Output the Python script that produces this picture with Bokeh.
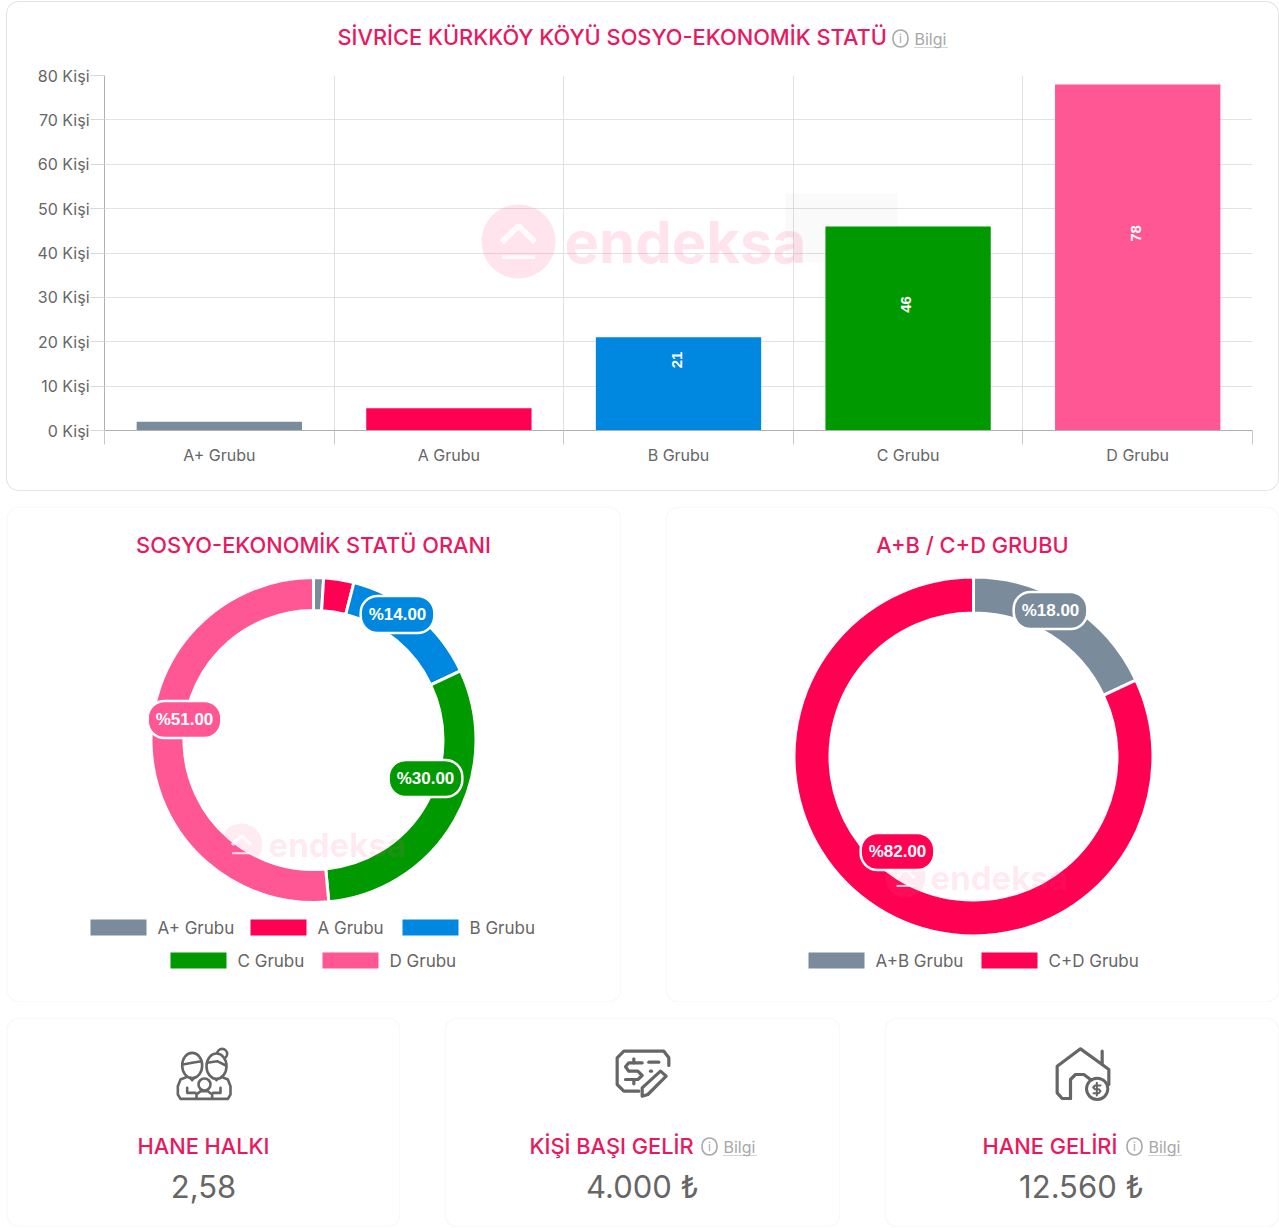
import math
from bokeh.plotting import figure
from bokeh.layouts import column, row
from bokeh.embed import file_html
from bokeh.resources import INLINE
from bokeh.core.properties import value
from bokeh.models import Range1d, FixedTicker, Label, BoxAnnotation, Arrow, ColumnDataSource

# ---------- data ----------
categories = ["A+ Grubu", "A Grubu", "B Grubu", "C Grubu", "D Grubu"]
people = [2, 5, 21, 46, 78]
colors = ["#7A8B9C", "#FF0052", "#0087E0", "#009900", "#FF5794"]
y_ticks = [0, 10, 20, 30, 40, 50, 60, 70, 80]
y_unit = "Kişi"
chart_title = "SİVRİCE KÜRKKÖY KÖYÜ SOSYO-EKONOMİK STATÜ"

share_title = "SOSYO-EKONOMİK STATÜ ORANI"
share_values = [1, 3, 14, 30.5, 51.5]
share_labels = {"B Grubu": "%14.00", "C Grubu": "%30.00", "D Grubu": "%51.00"}

group_title = "A+B / C+D GRUBU"
group_names = ["A+B Grubu", "C+D Grubu"]
group_values = [18, 82]
group_labels = ["%18.00", "%82.00"]
group_colors = ["#7A8B9C", "#FF0052"]

stat_titles = ["HANE HALKI", "KİŞİ BAŞI GELİR", "HANE GELİRİ"]
stat_values = ["2,58", "4.000 ₺", "12.560 ₺"]

FONT = "Inter"
TITLE_FONT = "Inter Medium"
TITLE_SIZE = "21.8px"
PINK = "#E8195F"
GREY = "#666666"
LIGHT = "#A8A8A8"
EDGE = "#E4E4E4"


def card(x0, y0, w, h):
    """A figure whose frame coordinates are reference pixels (y negated)."""
    p = figure(width=w, height=h, x_range=Range1d(x0, x0 + w), y_range=Range1d(-(y0 + 1 + h), -(y0 + 1)),
               toolbar_location=None, output_backend="svg", min_border=0,
               outline_line_color=None, border_fill_color=None, background_fill_color=None)
    p.axis.visible = False
    p.grid.visible = False
    p.add_layout(BoxAnnotation(left=0.5, right=w - 0.5, top=0.5, bottom=h - 0.5,
                               left_units="canvas", right_units="canvas",
                               top_units="canvas", bottom_units="canvas",
                               fill_color="white", fill_alpha=1, line_color=EDGE, line_width=1.2,
                               border_radius=13, level="underlay", editable=False))
    return p


def bilgi(p, x, y):
    p.add_layout(Label(x=x + 8, y=-y, text="i", text_color=LIGHT, text_font_size="12px",
                       text_font=FONT, text_align="center", text_baseline="middle",
                       border_line_color=LIGHT, border_line_width=1.6, border_radius=8,
                       padding=(6, 1)))
    p.add_layout(Label(x=x + 22, y=-y, text="Bilgi", text_color=LIGHT, text_font_size="16px",
                       text_font=FONT, text_align="left", text_baseline="middle"))
    p.add_layout(Arrow(end=None, start=None, x_start=x + 22, y_start=-(y + 9), x_end=x + 55, y_end=-(y + 9),
                       line_color=LIGHT, line_width=1, line_dash="1 1"))


def watermark(p, cx, cy, r, tx, size, alpha, **kw):
    p.scatter([cx], [-cy], size=2 * r, marker="circle", fill_color="#FF5794", fill_alpha=alpha,
              line_color=None, **kw)
    p.line([cx - r * .45, cx, cx + r * .45], [-cy - r * .02, -cy + r * .42, -cy - r * .02],
           line_color="white", line_width=r * .16, line_alpha=.8, **kw)
    p.line([cx - r * .45, cx + r * .45], [-cy - r * .42, -cy - r * .42],
           line_color="white", line_width=r * .1, line_alpha=.8, **kw)
    p.text([tx], [-cy], text=["endeksa"], text_font=value(FONT), text_font_style="bold",
           text_font_size=f"{size}px", text_color="#FF5794", text_alpha=alpha,
           text_baseline="middle", **kw)


def legend(p, names, cols, x_swatch, y):
    for name, col, xs in zip(names, cols, x_swatch):
        p.quad(left=[xs], right=[xs + 56], top=[-(y - 8)], bottom=[-(y + 8)], fill_color=col, line_color=None)
        p.text([xs + 67], [-y], text=[name], text_font=value(FONT), text_font_size="17px",
               text_color=GREY, text_baseline="middle")


def pill(p, x, y, text, col):
    p.add_layout(Label(x=x, y=-y, text=text, text_color="white", text_font="Liberation Sans",
                       text_font_style="bold", text_font_size="17px", text_align="center",
                       text_baseline="middle", background_fill_color=col, border_line_color="white",
                       border_line_width=2.5, border_radius=17, padding=(8, 9)))


def donut(p, cx, cy, r_out, r_in, values, cols):
    total = sum(values)
    cum = 0
    for v, c in zip(values, cols):
        a0 = math.pi / 2 - cum / total * 2 * math.pi
        cum += v
        a1 = math.pi / 2 - cum / total * 2 * math.pi
        p.annular_wedge([cx], [-cy], inner_radius=r_in, outer_radius=r_out, start_angle=a0, end_angle=a1,
                        direction="clock", fill_color=c, line_color="white", line_width=3)


# ---------- top card: header + bar chart ----------
head = figure(width=1273, height=64, x_range=Range1d(104, 1252), y_range=Range1d(-65, -1),
              toolbar_location=None, output_backend="svg", min_border=0,
              outline_line_color=None, border_fill_color=None, background_fill_color=None)
head.axis.visible = False
head.grid.visible = False
head.text([337], [-36], text=[chart_title], text_font=value(TITLE_FONT), text_font_size=TITLE_SIZE, text_color=PINK,
          text_align="left", text_baseline="middle")
bilgi(head, 892, 38)

top = figure(width=1273, height=426, x_range=Range1d(0, 5), y_range=Range1d(0, 80),
             toolbar_location=None, output_backend="svg",
             min_border_left=98, min_border_right=27, min_border_top=10, min_border_bottom=61,
             outline_line_color=None, border_fill_color=None, background_fill_color=None)
top.extra_x_ranges = {"px": Range1d(104, 1252)}
top.extra_y_ranges = {"py": Range1d(-430, -75)}
pxk = dict(x_range_name="px", y_range_name="py")

idx = [i + 0.5 for i in range(len(categories))]
src = ColumnDataSource(dict(x=idx, top=people, color=colors))

top.xaxis.ticker = FixedTicker(ticks=idx, minor_ticks=list(range(len(categories) + 1)))
top.xaxis.major_label_overrides = {i: c for i, c in zip(idx, categories)}
top.xaxis.major_tick_line_color = None
top.xaxis.minor_tick_line_color = "#C8C8C8"
top.xaxis.minor_tick_out = 14
top.xaxis.minor_tick_in = 0
top.xaxis.major_label_standoff = 0
top.xaxis.axis_line_color = "#B0B0B0"
top.xaxis.major_label_text_font = FONT
top.xaxis.major_label_text_font_size = "16px"
top.xaxis.major_label_text_color = GREY

top.yaxis.ticker = FixedTicker(ticks=y_ticks)
top.yaxis.major_label_overrides = {t: f"{t} {y_unit}" for t in y_ticks}
top.yaxis.minor_tick_line_color = None
top.yaxis.major_tick_out = 14
top.yaxis.major_tick_in = 0
top.yaxis.major_tick_line_color = "#D8D8D8"
top.yaxis.major_label_standoff = 1
top.yaxis.axis_line_color = "#B0B0B0"
top.yaxis.major_label_text_font = FONT
top.yaxis.major_label_text_font_size = "16px"
top.yaxis.major_label_text_color = GREY

top.xgrid.ticker = FixedTicker(ticks=list(range(len(categories) + 1)))
top.ygrid.ticker = FixedTicker(ticks=y_ticks)
top.grid.grid_line_color = "#E2E2E2"

watermark(top, 518, 241, 37, 564, 58, 0.17, **pxk)
top.quad(left=[785], right=[897], top=[-193], bottom=[-262], fill_color="#000000", fill_alpha=0.02,
         line_color=None, **pxk)
top.vbar(x="x", top="top", width=0.72, bottom=0, fill_color="color", line_color=None, source=src)
big = [(x, v) for x, v in zip(idx, people) if v > 10]
top.text([b[0] for b in big], [b[1] / 2 for b in big], text=[str(b[1]) for b in big], angle=math.pi / 2,
         text_color="white", text_font=value("Liberation Sans"), text_font_style="bold",
         text_font_size="15px", text_align="center", text_baseline="middle",
         x_offset=-2, y_offset=-24)

# ---------- donuts ----------
left = card(6, 506, 615, 496)
left.text([313], [-545], text=[share_title], text_font=value(TITLE_FONT), text_font_size=TITLE_SIZE, text_color=PINK,
          text_align="center", text_baseline="middle")
donut(left, 313, 740.5, 162.5, 129.5, share_values, colors)
watermark(left, 241, 845, 21, 268, 33, 0.12)
pill(left, 397, 615, share_labels["B Grubu"], colors[2])
pill(left, 425, 779, share_labels["C Grubu"], colors[3])
pill(left, 184, 720, share_labels["D Grubu"], colors[4])
legend(left, categories[:3], colors[:3], [90, 250, 402], 928)
legend(left, categories[3:], colors[3:], [170, 322], 961)

right = card(665, 506, 614, 496)
right.text([972], [-545], text=[group_title], text_font=value(TITLE_FONT), text_font_size=TITLE_SIZE, text_color=PINK,
           text_align="center", text_baseline="middle")
donut(right, 973, 757, 179.5, 143.5, group_values, group_colors)
watermark(right, 905, 878, 20, 930, 33, 0.12)
pill(right, 1050, 611, group_labels[0], group_colors[0])
pill(right, 897, 852, group_labels[1], group_colors[1])
legend(right, group_names, group_colors, [808, 981], 961)

# ---------- stat cards ----------
c1 = card(6, 1017, 394, 210)
c2 = card(444, 1017, 396, 210)
c3 = card(884, 1017, 395, 210)


def stat(p, title, val, tx, talign, vx):
    p.text([tx], [-1146], text=[title], text_font=value(TITLE_FONT), text_font_size=TITLE_SIZE, text_color=PINK,
           text_align=talign, text_baseline="middle")
    p.text([vx], [-1187], text=[val], text_font=value(FONT), text_font_size="31px", text_color=GREY,
           text_align="center", text_baseline="middle")


stat(c1, stat_titles[0], stat_values[0], 203, "center", 203)
stat(c2, stat_titles[1], stat_values[1], 529, "left", 642)
stat(c3, stat_titles[2], stat_values[2], 982, "left", 1081)
bilgi(c2, 701, 1147)
bilgi(c3, 1126, 1147)


def path(p, ox, oy, pts, lw=2.6):
    p.line([ox + a / 3 for a, _ in pts], [-(oy + b / 3) for _, b in pts], line_color="#666666",
           line_width=lw, line_join="round", line_cap="round")


def ring(p, ox, oy, cx, cy, rx, ry=None, lw=2.6):
    ry = rx if ry is None else ry
    p.ellipse([ox + cx / 3], [-(oy + cy / 3)], width=2 * rx / 3, height=2 * ry / 3, fill_color="white",
              line_color="#666666", line_width=lw)


# family icon
ox, oy = 120, 1030
path(c1, ox, oy, [(205, 140), (180, 150), (172, 170), (172, 195), (180, 208), (322, 208), (330, 195),
                  (330, 170), (322, 150), (298, 140)])
path(c1, ox, oy, [(200, 175), (200, 190), (225, 190)])
path(c1, ox, oy, [(300, 175), (300, 190), (278, 190)])
path(c1, ox, oy, [(228, 205), (228, 195), (240, 185), (262, 185), (275, 195), (275, 205)])
path(c1, ox, oy, [(205, 140), (215, 152), (225, 140)])
path(c1, ox, oy, [(278, 140), (288, 152), (298, 140)])
ring(c1, ox, oy, 215, 108, 30, 38)
ring(c1, ox, oy, 305, 73, 15)
ring(c1, ox, oy, 288, 110, 30, 38)
ring(c1, ox, oy, 252, 165, 18)
path(c1, ox, oy, [(187, 105), (215, 100), (243, 95)])
path(c1, ox, oy, [(260, 100), (290, 95), (316, 108)])

# banknote icon
ox, oy = 500, 1030
path(c2, ox, oy, [(505, 108), (505, 85), (490, 65), (370, 65), (350, 85), (350, 165), (370, 185), (415, 185)], 3.2)
path(c2, ox, oy, [(425, 100), (385, 100), (375, 112), (385, 125), (412, 125), (425, 138), (412, 150), (375, 150)], 3.2)
path(c2, ox, oy, [(400, 88), (400, 100)], 3.2)
path(c2, ox, oy, [(400, 150), (400, 163)], 3.2)
path(c2, ox, oy, [(445, 98), (475, 98)], 3.2)
path(c2, ox, oy, [(450, 125), (453, 125)], 3.2)
path(c2, ox, oy, [(425, 175), (480, 125), (497, 140), (442, 195), (425, 200), (425, 175)], 3.2)

# house icon
ox, oy = 960, 1030
path(c3, ox, oy, [(330, 207), (305, 207), (290, 190), (290, 110), (360, 58), (425, 105), (425, 65)], 3.2)
path(c3, ox, oy, [(425, 105), (445, 120), (445, 165)], 3.2)
path(c3, ox, oy, [(330, 207), (330, 150), (345, 135), (370, 135), (390, 150)], 3.2)
ring(c3, ox, oy, 410, 178, 32, lw=3)
path(c3, ox, oy, [(420, 168), (403, 168), (398, 174), (403, 179), (415, 179), (420, 185), (415, 191), (399, 191)], 2)
path(c3, ox, oy, [(409, 160), (409, 198)], 2)

top_card = column(head, top, styles={"box-shadow": f"inset 0 0 0 1px {EDGE}", "border-radius": "13px"})
layout = column(top_card,
                row(left, right, spacing=44, margin=(15, 0, 15, 0)),
                row(c1, c2, c3, spacing=44),
                margin=(1, 0, 0, 6))

open("out.html", "w").write(file_html(layout, INLINE))
